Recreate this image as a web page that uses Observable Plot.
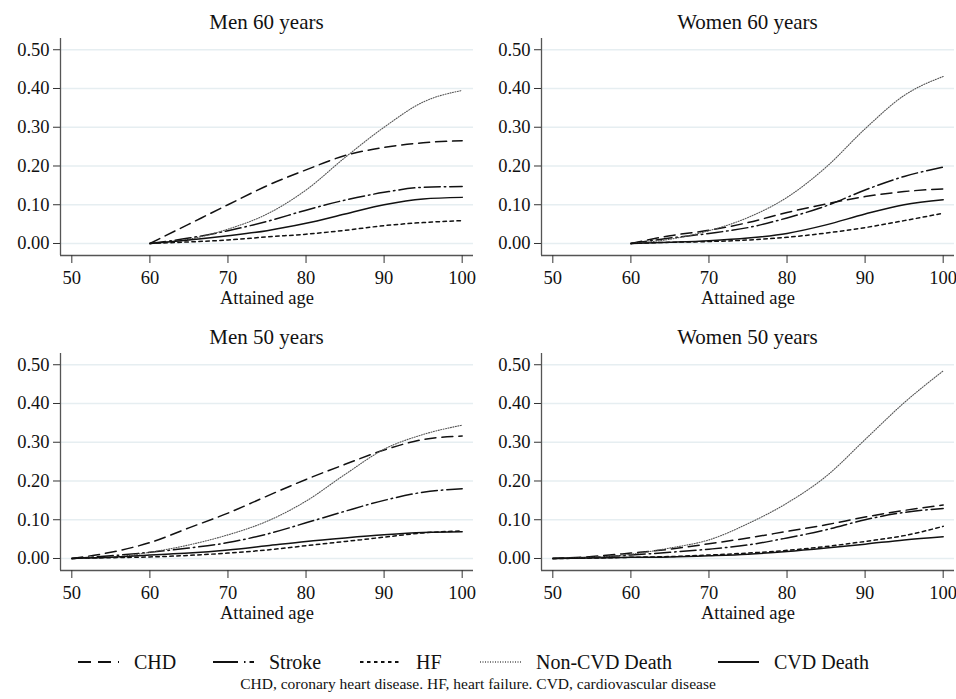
<!DOCTYPE html>
<html>
<head>
<meta charset="utf-8">
<script src="https://cdn.jsdelivr.net/npm/d3@7"></script>
<script src="https://cdn.jsdelivr.net/npm/@observablehq/plot@0.6"></script>
<style>
  html, body { margin: 0; padding: 0; background: #fff; }
  #root { position: relative; width: 956px; height: 699px; background: #fff; font-family: "Liberation Serif", "Times New Roman", serif; color: #111; overflow: hidden; }
  .panel { position: absolute; width: 478px; height: 315px; }
  .ptitle { position: absolute; top: 10px; font-size: 21px; text-align: center; white-space: nowrap; }
  .leg { position: absolute; top: 650px; height: 24px; display: flex; align-items: center; font-size: 20px; white-space: nowrap; }
  .leg svg { margin-right: 15px; }
  .caption { position: absolute; top: 675px; left: 0; width: 956px; text-align: center; font-size: 15.5px; }
</style>
</head>
<body>
<div id="root"></div>
<script>
// ---------- data ----------
const panelTitles = ["Men 60 years", "Women 60 years", "Men 50 years", "Women 50 years"];
const seriesNames = ["CHD", "Stroke", "HF", "Non-CVD Death", "CVD Death"];
const xTicks = [50, 60, 70, 80, 90, 100];
const yTicks = [0, 0.1, 0.2, 0.3, 0.4, 0.5];
const xLabel = "Attained age";
const captionText = "CHD, coronary heart disease. HF, heart failure. CVD, cardiovascular disease";

const ages60 = [60, 65, 70, 75, 80, 85, 90, 95, 100];
const ages50 = [50, 55, 60, 65, 70, 75, 80, 85, 90, 95, 100];

// Men 60 years
const men60_CHD    = [0, 0.050, 0.100, 0.149, 0.190, 0.227, 0.248, 0.260, 0.265];
const men60_Stroke = [0, 0.014, 0.033, 0.057, 0.086, 0.112, 0.132, 0.145, 0.147];
const men60_HF     = [0, 0.004, 0.009, 0.017, 0.024, 0.034, 0.046, 0.054, 0.059];
const men60_NonCVD = [0, 0.011, 0.037, 0.076, 0.138, 0.222, 0.300, 0.365, 0.395];
const men60_CVD    = [0, 0.009, 0.020, 0.033, 0.052, 0.076, 0.100, 0.115, 0.119];

// Women 60 years
const women60_CHD    = [0, 0.020, 0.034, 0.054, 0.080, 0.102, 0.121, 0.134, 0.141];
const women60_Stroke = [0, 0.014, 0.026, 0.041, 0.066, 0.097, 0.138, 0.173, 0.197];
const women60_HF     = [0, 0.003, 0.005, 0.009, 0.016, 0.027, 0.041, 0.059, 0.078];
const women60_NonCVD = [0, 0.011, 0.033, 0.067, 0.119, 0.197, 0.296, 0.382, 0.431];
const women60_CVD    = [0, 0.003, 0.007, 0.014, 0.026, 0.048, 0.076, 0.100, 0.113];

// Men 50 years
const men50_CHD    = [0, 0.016, 0.041, 0.079, 0.117, 0.161, 0.204, 0.243, 0.280, 0.307, 0.316];
const men50_Stroke = [0, 0.007, 0.016, 0.027, 0.041, 0.063, 0.092, 0.122, 0.150, 0.171, 0.180];
const men50_HF     = [0, 0.002, 0.004, 0.008, 0.014, 0.022, 0.033, 0.044, 0.055, 0.066, 0.071];
const men50_NonCVD = [0, 0.003, 0.016, 0.035, 0.061, 0.096, 0.148, 0.217, 0.282, 0.320, 0.344];
const men50_CVD    = [0, 0.003, 0.009, 0.014, 0.022, 0.033, 0.044, 0.053, 0.061, 0.067, 0.069];

// Women 50 years
const women50_CHD    = [0, 0.005, 0.014, 0.024, 0.038, 0.053, 0.070, 0.087, 0.107, 0.124, 0.138];
const women50_Stroke = [0, 0.003, 0.009, 0.016, 0.024, 0.035, 0.053, 0.074, 0.100, 0.119, 0.129];
const women50_HF     = [0, 0.001, 0.003, 0.005, 0.009, 0.014, 0.021, 0.031, 0.044, 0.059, 0.083];
const women50_NonCVD = [0, 0.003, 0.011, 0.027, 0.048, 0.090, 0.143, 0.212, 0.307, 0.402, 0.484];
const women50_CVD    = [0, 0.001, 0.003, 0.004, 0.007, 0.011, 0.018, 0.027, 0.037, 0.048, 0.056];

// ---------- styles ----------
const seriesStyle = {
  "CHD":           {stroke: "#111", strokeWidth: 1.5, strokeDasharray: "11,6"},
  "Stroke":        {stroke: "#111", strokeWidth: 1.5, strokeDasharray: "16,4,1.5,4"},
  "HF":            {stroke: "#111", strokeWidth: 1.5, strokeDasharray: "3.5,3.5"},
  "Non-CVD Death": {stroke: "#555", strokeWidth: 1.1, strokeDasharray: "1,1.5"},
  "CVD Death":     {stroke: "#111", strokeWidth: 1.5, strokeDasharray: null}
};

function toRows(ages, arrays) {
  const rows = [];
  seriesNames.forEach((s, i) => ages.forEach((a, j) => rows.push({series: s, age: a, v: arrays[i][j]})));
  return rows;
}

const panels = [
  {title: panelTitles[0], rows: toRows(ages60, [men60_CHD, men60_Stroke, men60_HF, men60_NonCVD, men60_CVD]), left: 0, top: 0, ml: 60, mr: 5},
  {title: panelTitles[1], rows: toRows(ages60, [women60_CHD, women60_Stroke, women60_HF, women60_NonCVD, women60_CVD]), left: 478, top: 0, ml: 63, mr: 2},
  {title: panelTitles[2], rows: toRows(ages50, [men50_CHD, men50_Stroke, men50_HF, men50_NonCVD, men50_CVD]), left: 0, top: 315, ml: 60, mr: 5},
  {title: panelTitles[3], rows: toRows(ages50, [women50_CHD, women50_Stroke, women50_HF, women50_NonCVD, women50_CVD]), left: 478, top: 315, ml: 63, mr: 2}
];

const root = document.getElementById("root");
const xDom = [48.55, 101.45];
const yDom = [-0.031, 0.529];
const FONT = "'Liberation Serif', 'Times New Roman', serif";

panels.forEach(p => {
  const div = document.createElement("div");
  div.className = "panel";
  div.style.left = p.left + "px";
  div.style.top = p.top + "px";
  const chart = Plot.plot({
    width: 478, height: 315,
    marginLeft: p.ml, marginRight: p.mr, marginTop: 38, marginBottom: 60,
    style: {fontFamily: FONT, fontSize: "17px", background: "transparent", color: "#111", overflow: "visible"},
    x: {domain: xDom, label: null},
    y: {domain: yDom, label: null},
    marks: [
      Plot.ruleY(yTicks, {stroke: "#e6eef1", strokeWidth: 1.5}),
      ...seriesNames.map(s => Plot.line(p.rows.filter(d => d.series === s), {
        x: "age", y: "v", curve: "monotone-x",
        stroke: seriesStyle[s].stroke, strokeWidth: seriesStyle[s].strokeWidth,
        strokeDasharray: seriesStyle[s].strokeDasharray
      })),
      Plot.ruleX([xDom[0]], {stroke: "#555", strokeWidth: 1.3}),
      Plot.ruleY([yDom[0]], {stroke: "#555", strokeWidth: 1.3}),
      Plot.axisY({ticks: yTicks, tickFormat: d3.format(".2f"), tickSize: 7, tickPadding: 4, stroke: "#333", fontSize: 18.5, label: null}),
      Plot.axisX({ticks: xTicks, tickFormat: d => String(d), tickSize: 8, tickPadding: 7, stroke: "#333", fontSize: 18.5, label: null}),
      Plot.text([xLabel], {frameAnchor: "bottom", dy: 48, fontSize: 18.5, fill: "#111"})
    ]
  });
  div.appendChild(chart);
  const t = document.createElement("div");
  t.className = "ptitle";
  t.textContent = p.title;
  const cx = p.ml + (478 - p.ml - p.mr) / 2;
  t.style.left = (cx - 150) + "px";
  t.style.width = "300px";
  div.appendChild(t);
  root.appendChild(div);
});

// ---------- legend ----------
const legLefts = [78, 213, 360, 480, 718];
seriesNames.forEach((s, i) => {
  const item = document.createElement("div");
  item.className = "leg";
  item.style.left = legLefts[i] + "px";
  const st = seriesStyle[s];
  const ns = "http://www.w3.org/2000/svg";
  const svg = document.createElementNS(ns, "svg");
  svg.setAttribute("width", 41); svg.setAttribute("height", 10);
  const ln = document.createElementNS(ns, "line");
  ln.setAttribute("x1", 0); ln.setAttribute("x2", 41); ln.setAttribute("y1", 5); ln.setAttribute("y2", 5);
  ln.setAttribute("stroke", st.stroke);
  ln.setAttribute("stroke-width", st.strokeWidth + 0.3);
  if (st.strokeDasharray) ln.setAttribute("stroke-dasharray", s === "CHD" ? "13,7" : s === "Stroke" ? "25,6,1.5,4" : st.strokeDasharray);
  svg.appendChild(ln);
  item.appendChild(svg);
  const span = document.createElement("span");
  span.textContent = s;
  item.appendChild(span);
  root.appendChild(item);
});

const cap = document.createElement("div");
cap.className = "caption";
cap.textContent = captionText;
root.appendChild(cap);
</script>
</body>
</html>
